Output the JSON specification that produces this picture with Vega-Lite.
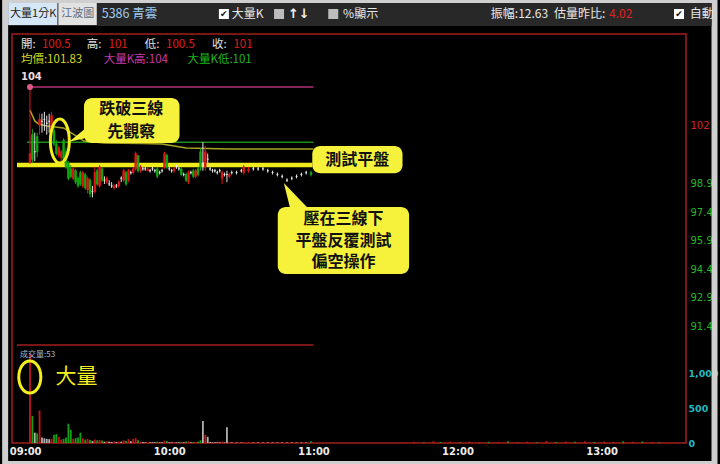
{
"$schema": "https://vega.github.io/schema/vega-lite/v6.json",
"width": 674, "height": 409,
"padding": {"left": 12, "top": 34, "right": 34, "bottom": 21},
"autosize": {"type": "none"},
"background": "#000000",
"view": {"fill": "#000000", "stroke": "#a41e1e", "strokeWidth": 1.5},
"config": {"axis": {"grid": false, "domain": false, "ticks": false, "labels": true}},
"datasets": {
"candles": [
{"t":"2024-01-02T09:02","o":100.0,"h":104.0,"l":100.0,"c":100.5,"v":1300},
{"t":"2024-01-02T09:03","o":101.5,"h":101.8,"l":100.0,"c":100.2,"v":390},
{"t":"2024-01-02T09:04","o":100.6,"h":101.6,"l":100.1,"c":100.6,"v":150},
{"t":"2024-01-02T09:05","o":101.4,"h":101.6,"l":100.3,"c":100.6,"v":140},
{"t":"2024-01-02T09:06","o":102.0,"h":102.6,"l":101.5,"c":102.3,"v":470},
{"t":"2024-01-02T09:07","o":102.2,"h":102.6,"l":101.6,"c":102.2,"v":80},
{"t":"2024-01-02T09:08","o":102.3,"h":102.7,"l":101.7,"c":102.3,"v":70},
{"t":"2024-01-02T09:09","o":102.1,"h":102.5,"l":101.5,"c":102.1,"v":60},
{"t":"2024-01-02T09:10","o":102.2,"h":102.6,"l":101.6,"c":102.2,"v":55},
{"t":"2024-01-02T09:11","o":101.7,"h":102.7,"l":101.6,"c":102.5,"v":60},
{"t":"2024-01-02T09:12","o":101.7,"h":101.9,"l":100.9,"c":101.0,"v":120},
{"t":"2024-01-02T09:13","o":101.0,"h":101.2,"l":100.4,"c":100.5,"v":130},
{"t":"2024-01-02T09:14","o":100.4,"h":100.9,"l":100.3,"c":100.8,"v":90},
{"t":"2024-01-02T09:15","o":100.3,"h":100.7,"l":100.1,"c":100.6,"v":50},
{"t":"2024-01-02T09:16","o":101.2,"h":101.3,"l":100.1,"c":100.2,"v":60},
{"t":"2024-01-02T09:17","o":100.6,"h":100.8,"l":99.7,"c":99.8,"v":80},
{"t":"2024-01-02T09:18","o":100.0,"h":100.1,"l":99.1,"c":99.2,"v":280},
{"t":"2024-01-02T09:19","o":99.7,"h":99.9,"l":99.2,"c":99.3,"v":190},
{"t":"2024-01-02T09:20","o":99.2,"h":99.8,"l":99.1,"c":99.7,"v":60},
{"t":"2024-01-02T09:21","o":99.6,"h":99.7,"l":98.9,"c":99.0,"v":70},
{"t":"2024-01-02T09:22","o":99.2,"h":99.3,"l":98.7,"c":98.8,"v":80},
{"t":"2024-01-02T09:23","o":99.5,"h":99.6,"l":98.8,"c":98.9,"v":150},
{"t":"2024-01-02T09:24","o":98.8,"h":99.6,"l":98.7,"c":99.5,"v":70},
{"t":"2024-01-02T09:25","o":99.4,"h":99.5,"l":98.6,"c":98.7,"v":50},
{"t":"2024-01-02T09:26","o":98.6,"h":99.3,"l":98.4,"c":99.2,"v":60},
{"t":"2024-01-02T09:27","o":99.1,"h":99.2,"l":98.2,"c":98.4,"v":45},
{"t":"2024-01-02T09:28","o":98.5,"h":98.8,"l":98.2,"c":98.5,"v":30},
{"t":"2024-01-02T09:29","o":98.5,"h":99.8,"l":98.4,"c":99.5,"v":50},
{"t":"2024-01-02T09:30","o":99.6,"h":99.7,"l":98.8,"c":98.9,"v":40},
{"t":"2024-01-02T09:31","o":98.8,"h":99.9,"l":98.7,"c":99.8,"v":45},
{"t":"2024-01-02T09:32","o":99.7,"h":99.8,"l":99.0,"c":99.1,"v":35},
{"t":"2024-01-02T09:33","o":99.1,"h":99.3,"l":98.9,"c":99.1,"v":20},
{"t":"2024-01-02T09:34","o":99.0,"h":99.3,"l":98.9,"c":99.2,"v":25},
{"t":"2024-01-02T09:35","o":98.9,"h":99.1,"l":98.8,"c":98.9,"v":20},
{"t":"2024-01-02T09:36","o":98.8,"h":99.0,"l":98.7,"c":98.8,"v":15},
{"t":"2024-01-02T09:37","o":98.7,"h":98.9,"l":98.6,"c":98.8,"v":20},
{"t":"2024-01-02T09:38","o":98.8,"h":98.9,"l":98.7,"c":98.8,"v":15},
{"t":"2024-01-02T09:39","o":98.8,"h":99.1,"l":98.7,"c":99.0,"v":20},
{"t":"2024-01-02T09:40","o":99.2,"h":99.3,"l":99.0,"c":99.2,"v":20},
{"t":"2024-01-02T09:41","o":99.1,"h":99.7,"l":99.0,"c":99.6,"v":40},
{"t":"2024-01-02T09:42","o":99.5,"h":99.6,"l":98.8,"c":98.9,"v":30},
{"t":"2024-01-02T09:43","o":99.1,"h":99.7,"l":99.0,"c":99.6,"v":55},
{"t":"2024-01-02T09:44","o":99.5,"h":99.6,"l":99.4,"c":99.5,"v":25},
{"t":"2024-01-02T09:45","o":99.5,"h":99.8,"l":99.4,"c":99.7,"v":60},
{"t":"2024-01-02T09:46","o":99.7,"h":100.6,"l":99.6,"c":100.5,"v":70},
{"t":"2024-01-02T09:47","o":100.4,"h":100.4,"l":99.5,"c":99.6,"v":40},
{"t":"2024-01-02T09:48","o":99.6,"h":99.9,"l":99.5,"c":99.8,"v":20},
{"t":"2024-01-02T09:49","o":99.7,"h":99.8,"l":99.6,"c":99.7,"v":15},
{"t":"2024-01-02T09:50","o":99.7,"h":99.8,"l":99.6,"c":99.7,"v":10},
{"t":"2024-01-02T09:51","o":99.6,"h":99.8,"l":99.6,"c":99.7,"v":12},
{"t":"2024-01-02T09:52","o":99.6,"h":99.7,"l":99.5,"c":99.6,"v":10},
{"t":"2024-01-02T09:53","o":99.7,"h":99.8,"l":99.6,"c":99.7,"v":12},
{"t":"2024-01-02T09:54","o":99.6,"h":99.7,"l":99.5,"c":99.6,"v":10},
{"t":"2024-01-02T09:55","o":99.7,"h":99.8,"l":99.2,"c":99.3,"v":20},
{"t":"2024-01-02T09:56","o":99.5,"h":99.6,"l":99.4,"c":99.5,"v":10},
{"t":"2024-01-02T09:57","o":99.6,"h":99.7,"l":99.5,"c":99.6,"v":12},
{"t":"2024-01-02T09:58","o":99.8,"h":100.6,"l":99.7,"c":100.5,"v":35},
{"t":"2024-01-02T09:59","o":100.4,"h":100.5,"l":99.7,"c":99.8,"v":30},
{"t":"2024-01-02T10:00","o":99.7,"h":99.8,"l":99.6,"c":99.7,"v":10},
{"t":"2024-01-02T10:01","o":99.6,"h":99.7,"l":99.5,"c":99.6,"v":10},
{"t":"2024-01-02T10:02","o":99.6,"h":99.8,"l":99.5,"c":99.7,"v":12},
{"t":"2024-01-02T10:03","o":99.8,"h":99.9,"l":99.7,"c":99.8,"v":10},
{"t":"2024-01-02T10:04","o":99.7,"h":99.8,"l":99.6,"c":99.7,"v":10},
{"t":"2024-01-02T10:05","o":99.7,"h":99.8,"l":99.3,"c":99.4,"v":15},
{"t":"2024-01-02T10:06","o":99.4,"h":99.5,"l":99.3,"c":99.4,"v":10},
{"t":"2024-01-02T10:07","o":99.4,"h":99.5,"l":99.0,"c":99.1,"v":20},
{"t":"2024-01-02T10:08","o":99.0,"h":99.6,"l":98.9,"c":99.5,"v":25},
{"t":"2024-01-02T10:09","o":99.5,"h":99.6,"l":99.4,"c":99.5,"v":10},
{"t":"2024-01-02T10:10","o":99.6,"h":99.7,"l":99.2,"c":99.3,"v":15},
{"t":"2024-01-02T10:11","o":99.3,"h":99.7,"l":99.2,"c":99.6,"v":15},
{"t":"2024-01-02T10:12","o":99.7,"h":99.8,"l":99.3,"c":99.4,"v":20},
{"t":"2024-01-02T10:13","o":100.6,"h":100.8,"l":99.6,"c":99.8,"v":40},
{"t":"2024-01-02T10:14","o":100.0,"h":101.1,"l":99.6,"c":100.0,"v":320},
{"t":"2024-01-02T10:15","o":99.8,"h":100.9,"l":99.6,"c":100.6,"v":120},
{"t":"2024-01-02T10:16","o":100.2,"h":100.5,"l":99.8,"c":100.2,"v":90},
{"t":"2024-01-02T10:17","o":99.7,"h":99.8,"l":99.6,"c":99.7,"v":15},
{"t":"2024-01-02T10:18","o":99.6,"h":99.7,"l":99.5,"c":99.6,"v":10},
{"t":"2024-01-02T10:19","o":99.6,"h":99.7,"l":99.5,"c":99.6,"v":10},
{"t":"2024-01-02T10:20","o":99.5,"h":99.6,"l":99.4,"c":99.5,"v":10},
{"t":"2024-01-02T10:21","o":99.6,"h":99.7,"l":99.5,"c":99.6,"v":10},
{"t":"2024-01-02T10:22","o":99.2,"h":99.6,"l":98.9,"c":99.5,"v":20},
{"t":"2024-01-02T10:23","o":99.4,"h":99.5,"l":99.3,"c":99.4,"v":10},
{"t":"2024-01-02T10:24","o":99.4,"h":99.6,"l":99.0,"c":99.4,"v":230},
{"t":"2024-01-02T10:25","o":99.3,"h":99.5,"l":99.2,"c":99.4,"v":10},
{"t":"2024-01-02T10:26","o":99.5,"h":99.6,"l":99.4,"c":99.5,"v":8},
{"t":"2024-01-02T10:28","o":99.5,"h":99.6,"l":99.4,"c":99.5,"v":8},
{"t":"2024-01-02T10:30","o":99.6,"h":99.7,"l":99.5,"c":99.6,"v":8},
{"t":"2024-01-02T10:31","o":99.5,"h":99.9,"l":99.4,"c":99.8,"v":15},
{"t":"2024-01-02T10:33","o":99.6,"h":99.8,"l":99.5,"c":99.7,"v":12},
{"t":"2024-01-02T10:35","o":99.7,"h":99.8,"l":99.6,"c":99.7,"v":8},
{"t":"2024-01-02T10:37","o":99.7,"h":99.8,"l":99.6,"c":99.7,"v":8},
{"t":"2024-01-02T10:39","o":99.7,"h":99.8,"l":99.6,"c":99.7,"v":8},
{"t":"2024-01-02T10:41","o":99.6,"h":99.7,"l":99.5,"c":99.6,"v":8},
{"t":"2024-01-02T10:43","o":99.5,"h":99.6,"l":99.4,"c":99.5,"v":8},
{"t":"2024-01-02T10:45","o":99.4,"h":99.5,"l":99.3,"c":99.4,"v":8},
{"t":"2024-01-02T10:47","o":99.3,"h":99.4,"l":99.2,"c":99.3,"v":8},
{"t":"2024-01-02T10:49","o":99.1,"h":99.2,"l":99.0,"c":99.1,"v":8},
{"t":"2024-01-02T10:51","o":99.2,"h":99.3,"l":99.1,"c":99.2,"v":8},
{"t":"2024-01-02T10:53","o":99.3,"h":99.4,"l":99.2,"c":99.3,"v":8},
{"t":"2024-01-02T10:55","o":99.4,"h":99.5,"l":99.3,"c":99.4,"v":8},
{"t":"2024-01-02T10:57","o":99.5,"h":99.6,"l":99.4,"c":99.5,"v":8},
{"t":"2024-01-02T10:59","o":99.5,"h":99.6,"l":99.3,"c":99.4,"v":25}
],
"late": [
{"t":"2024-01-02T11:42","v":18,"side":"up"},{"t":"2024-01-02T11:46","v":12,"side":"dn"},{"t":"2024-01-02T11:50","v":25,"side":"up"},
{"t":"2024-01-02T11:53","v":15,"side":"dn"},{"t":"2024-01-02T11:57","v":20,"side":"up"},{"t":"2024-01-02T12:01","v":10,"side":"dn"},
{"t":"2024-01-02T12:05","v":22,"side":"up"},{"t":"2024-01-02T12:09","v":14,"side":"up"},{"t":"2024-01-02T12:13","v":18,"side":"dn"},
{"t":"2024-01-02T12:17","v":12,"side":"up"},{"t":"2024-01-02T12:21","v":25,"side":"dn"},{"t":"2024-01-02T12:25","v":15,"side":"up"},
{"t":"2024-01-02T12:29","v":20,"side":"up"},{"t":"2024-01-02T12:33","v":12,"side":"dn"},{"t":"2024-01-02T12:37","v":28,"side":"up"},
{"t":"2024-01-02T12:41","v":16,"side":"dn"},{"t":"2024-01-02T12:45","v":22,"side":"up"},{"t":"2024-01-02T12:49","v":18,"side":"dn"},
{"t":"2024-01-02T12:53","v":25,"side":"up"},{"t":"2024-01-02T12:57","v":14,"side":"dn"},{"t":"2024-01-02T13:01","v":20,"side":"up"},
{"t":"2024-01-02T13:05","v":16,"side":"up"},{"t":"2024-01-02T13:09","v":24,"side":"dn"},{"t":"2024-01-02T13:13","v":18,"side":"up"},
{"t":"2024-01-02T13:17","v":22,"side":"dn"},{"t":"2024-01-02T13:21","v":15,"side":"up"},{"t":"2024-01-02T13:24","v":12,"side":"dn"}
],
"avg": [
{"t":"2024-01-02T09:02:00","p":102.79},{"t":"2024-01-02T09:04:00","p":102.22},{"t":"2024-01-02T09:05:37","p":102.06},
{"t":"2024-01-02T09:09:00","p":101.95},{"t":"2024-01-02T09:16:00","p":101.85},{"t":"2024-01-02T09:20:00","p":101.53},
{"t":"2024-01-02T09:24:30","p":101.16},{"t":"2024-01-02T09:33:00","p":101.06},{"t":"2024-01-02T09:49:00","p":101.03},
{"t":"2024-01-02T09:57:00","p":101.0},{"t":"2024-01-02T10:07:00","p":100.79},{"t":"2024-01-02T10:25:00","p":100.74},
{"t":"2024-01-02T11:00:00","p":100.74}
],
"levels": [
{"k":"sep","t1":"2024-01-02T08:56:36","t2":"2024-01-02T11:00:04","p":90.426},
{"k":"flat","t1":"2024-01-02T08:56:36","t2":"2024-01-02T10:59:32","p":99.9},
{"k":"hi","t1":"2024-01-02T09:02:00","t2":"2024-01-02T11:00:00","p":104.0},
{"k":"lo","t1":"2024-01-02T09:00:42","t2":"2024-01-02T11:00:00","p":101.1}
],
"boxes": [
{"k":"border","t1":"2024-01-02T08:51:40","t2":"2024-01-02T13:47:00","p1":108.584,"p2":84.163},
{"k":"toolbar","t1":"2024-01-02T08:52:55","t2":"2024-01-02T13:45:47","p1":108.426,"p2":107.216},
{"k":"tab1","t1":"2024-01-02T08:52:55","t2":"2024-01-02T09:13:25","p1":108.426,"p2":107.268},
{"k":"tab2","t1":"2024-01-02T09:13:49","t2":"2024-01-02T09:29:49","p1":108.426,"p2":107.268},
{"k":"co","t1":"2024-01-02T09:24:29","t2":"2024-01-02T10:04:16","p1":103.426,"p2":101.058},
{"k":"co","t1":"2024-01-02T10:59:32","t2":"2024-01-02T11:37:06","p1":100.9,"p2":99.463},
{"k":"co","t1":"2024-01-02T10:45:10","t2":"2024-01-02T11:39:51","p1":97.689,"p2":94.163}
],
"marks": [
{"g":"dot","t":"2024-01-02T09:02:00","p":104.0},
{"g":"tail1","t":"2024-01-02T09:21:49","p":101.487},
{"g":"tail2","t":"2024-01-02T10:53:17","p":98.216},
{"g":"ell1","t":"2024-01-02T09:14:26","p":101.163},
{"g":"ell2","t":"2024-01-02T09:01:56","p":88.742},
{"g":"cb","t":"2024-01-02T10:22:44","p":107.847,"on":true},
{"g":"cb","t":"2024-01-02T10:45:42","p":107.847,"on":false},
{"g":"cb","t":"2024-01-02T11:08:16","p":107.847,"on":false},
{"g":"cb","t":"2024-01-02T13:32:13","p":107.847,"on":true}
],
"texts": [
{"g":"tb1","t":"2024-01-02T08:53:43","p":107.847,"label":"大量1分K"},
{"g":"tb2","t":"2024-01-02T09:15:03","p":107.847,"label":"江波圖"},
{"g":"tb3","t":"2024-01-02T09:31:52","p":107.847,"label":"5386 青雲"},
{"g":"tbw","t":"2024-01-02T10:26:01","p":107.847,"label":"大量K"},
{"g":"tbw","t":"2024-01-02T11:12:22","p":107.847,"label":"%顯示"},
{"g":"tbw","t":"2024-01-02T12:13:53","p":107.847,"label":"振幅:12.63"},
{"g":"tbw","t":"2024-01-02T12:40:08","p":107.847,"label":"估量昨比:"},
{"g":"tbw","t":"2024-01-02T13:36:42","p":107.847,"label":"自動"},
{"g":"tbr","t":"2024-01-02T13:03:07","p":107.847,"label":"4.02"},
{"g":"tba","t":"2024-01-02T10:49:23","p":107.847,"label":"↑↓"},
{"g":"chk","t":"2024-01-02T10:22:44","p":107.847,"label":"✔"},
{"g":"chk","t":"2024-01-02T13:32:13","p":107.847,"label":"✔"},
{"g":"hl","t":"2024-01-02T08:58:14","p":106.216,"label":"開:"},
{"g":"hl","t":"2024-01-02T09:25:36","p":106.216,"label":"高:"},
{"g":"hl","t":"2024-01-02T09:49:48","p":106.216,"label":"低:"},
{"g":"hl","t":"2024-01-02T10:17:49","p":106.216,"label":"收:"},
{"g":"hv","t":"2024-01-02T09:06:58","p":106.216,"label":"100.5"},
{"g":"hv","t":"2024-01-02T09:34:44","p":106.216,"label":"101"},
{"g":"hv","t":"2024-01-02T09:58:39","p":106.216,"label":"100.5"},
{"g":"hv","t":"2024-01-02T10:26:43","p":106.216,"label":"101"},
{"g":"avg","t":"2024-01-02T08:58:14","p":105.4,"label":"均價:101.83"},
{"g":"hi","t":"2024-01-02T09:32:41","p":105.4,"label":"大量K高:104"},
{"g":"lo","t":"2024-01-02T10:07:34","p":105.4,"label":"大量K低:101"},
{"g":"p104","t":"2024-01-02T08:58:14","p":104.547,"label":"104"},
{"g":"vol","t":"2024-01-02T08:57:50","p":89.926,"label":"成交量:53"},
{"g":"co","t":"2024-01-02T09:44:11","p":102.84,"label":"跌破三線"},
{"g":"co","t":"2024-01-02T09:44:11","p":101.65,"label":"先觀察"},
{"g":"co","t":"2024-01-02T11:18:18","p":100.179,"label":"測試平盤"},
{"g":"co","t":"2024-01-02T11:12:30","p":97.08,"label":"壓在三線下"},
{"g":"co","t":"2024-01-02T11:12:30","p":95.92,"label":"平盤反覆測試"},
{"g":"co","t":"2024-01-02T11:12:30","p":94.78,"label":"偏空操作"},
{"g":"big","t":"2024-01-02T09:21:25","p":88.716,"label":"大量"}
]
},
"resolve": {"scale": {"y": "independent"}, "axis": {"y": "independent"}},
"layer": [
{"layer": [
{"data": {"name": "candles"},
 "mark": {"type": "bar", "width": 1.8},
 "encoding": {
  "x": {"field": "t", "type": "temporal",
   "scale": {"domain": [{"year":2024,"month":1,"date":2,"hours":8,"minutes":56,"seconds":36},{"year":2024,"month":1,"date":2,"hours":13,"minutes":33,"seconds":3}]},
   "axis": {"orient": "bottom", "title": null, "format": "%H:%M",
    "values": [{"year":2024,"month":1,"date":2,"hours":9},{"year":2024,"month":1,"date":2,"hours":10},{"year":2024,"month":1,"date":2,"hours":11},{"year":2024,"month":1,"date":2,"hours":12},{"year":2024,"month":1,"date":2,"hours":13}],
    "labelColor": "#ececec", "labelFont": "DejaVu Sans", "labelFontSize": 10, "labelFontWeight": "bold", "labelPadding": 3, "labelFlush": false, "labelOverlap": false, "labelBound": false}},
  "y": {"field": "v", "type": "quantitative",
   "scale": {"domain": [0, 5926], "nice": false, "zero": false},
   "axis": {"orient": "right", "title": null, "values": [0, 500, 1000], "format": ",d",
    "labelColor": "#22b8c0", "labelFont": "DejaVu Sans", "labelFontSize": 9.5, "labelFontWeight": "bold", "labelPadding": 2, "labelFlush": false, "labelOverlap": false, "labelBound": false}},
  "y2": {"datum": 0},
  "color": {"condition": [{"test": "datum.c > datum.o", "value": "#c81414"}, {"test": "datum.c < datum.o", "value": "#14a014"}], "value": "#b0b0b0"}
 }},
{"data": {"name": "late"},
 "mark": {"type": "bar", "width": 1.8},
 "encoding": {
  "x": {"field": "t", "type": "temporal"},
  "y": {"field": "v", "type": "quantitative"},
  "y2": {"datum": 0},
  "color": {"condition": {"test": "datum.side == 'up'", "value": "#c81414"}, "value": "#14a014"}
 }}
]},
{"layer": [
{"data": {"name": "boxes"},
 "transform": [{"filter": "datum.k == 'border'"}],
 "mark": {"type": "rect", "filled": false, "color": "#cfcfcf", "strokeWidth": 6},
 "encoding": {
  "x": {"field": "t1", "type": "temporal"}, "x2": {"field": "t2"},
  "y": {"field": "p1", "type": "quantitative"}, "y2": {"field": "p2"}
 }},
{"data": {"name": "boxes"},
 "transform": [{"filter": "datum.k == 'toolbar' || datum.k == 'tab1' || datum.k == 'tab2'"}],
 "mark": {"type": "rect"},
 "encoding": {
  "x": {"field": "t1", "type": "temporal"}, "x2": {"field": "t2"},
  "y": {"field": "p1", "type": "quantitative"}, "y2": {"field": "p2"},
  "color": {"condition": [{"test": "datum.k == 'tab1'", "value": "#d5e6f6"}, {"test": "datum.k == 'tab2'", "value": "#e2e2e2"}], "value": "#282828"}
 }},
{"data": {"name": "levels"},
 "transform": [{"filter": "datum.k == 'sep'"}],
 "mark": {"type": "rule", "color": "#a41e1e", "strokeWidth": 1.5},
 "encoding": {"x": {"field": "t1", "type": "temporal"}, "x2": {"field": "t2"}, "y": {"field": "p", "type": "quantitative"}}},
{"data": {"name": "levels"},
 "transform": [{"filter": "datum.k == 'hi'"}],
 "mark": {"type": "rule", "color": "#b0327a", "strokeWidth": 1.5},
 "encoding": {"x": {"field": "t1", "type": "temporal"}, "x2": {"field": "t2"}, "y": {"field": "p", "type": "quantitative"}}},
{"data": {"name": "levels"},
 "transform": [{"filter": "datum.k == 'lo'"}],
 "mark": {"type": "rule", "color": "#1e8c1e", "strokeWidth": 1.5},
 "encoding": {"x": {"field": "t1", "type": "temporal"}, "x2": {"field": "t2"}, "y": {"field": "p", "type": "quantitative"}}},
{"data": {"name": "avg"},
 "mark": {"type": "line", "color": "#a8a420", "strokeWidth": 1.5},
 "encoding": {"x": {"field": "t", "type": "temporal"}, "y": {"field": "p", "type": "quantitative"}}},
{"data": {"name": "levels"},
 "transform": [{"filter": "datum.k == 'flat'"}],
 "mark": {"type": "rule", "color": "#f0ec1c", "strokeWidth": 4.5},
 "encoding": {"x": {"field": "t1", "type": "temporal"}, "x2": {"field": "t2"}, "y": {"field": "p", "type": "quantitative"}}},
{"data": {"name": "candles"},
 "mark": {"type": "rule", "strokeWidth": 1},
 "encoding": {
  "x": {"field": "t", "type": "temporal"},
  "y": {"field": "l", "type": "quantitative",
   "scale": {"domain": [85.2684, 106.7947], "nice": false, "zero": false},
   "axis": {"orient": "right", "title": null, "values": [91.4, 92.9, 94.4, 95.9, 97.4, 98.9, 102],
    "labelExpr": "datum.value >= 100 ? format(datum.value, 'd') : format(datum.value, '.1f')",
    "labelColor": {"condition": {"test": "datum.value >= 100", "value": "#d42525"}, "value": "#22b822"},
    "labelFont": "DejaVu Sans", "labelFontSize": 10, "labelPadding": 4, "labelFlush": false, "labelOverlap": false, "labelBound": false}},
  "y2": {"field": "h"},
  "color": {"condition": [{"test": "datum.c > datum.o", "value": "#e01818"}, {"test": "datum.c < datum.o", "value": "#12a812"}], "value": "#e6e6e6"}
 }},
{"data": {"name": "candles"},
 "mark": {"type": "bar", "width": 1.6, "strokeWidth": 0.8},
 "encoding": {
  "x": {"field": "t", "type": "temporal"},
  "y": {"field": "o", "type": "quantitative"},
  "y2": {"field": "c"},
  "color": {"condition": [{"test": "datum.c > datum.o", "value": "#e01818"}, {"test": "datum.c < datum.o", "value": "#12a812"}], "value": "#e6e6e6"},
  "stroke": {"condition": [{"test": "datum.c > datum.o", "value": "#e01818"}, {"test": "datum.c < datum.o", "value": "#12a812"}], "value": "#e6e6e6"}
 }},
{"data": {"name": "marks"},
 "transform": [{"filter": "datum.g == 'dot'"}],
 "mark": {"type": "point", "shape": "circle", "filled": true, "size": 36, "color": "#e0588a", "opacity": 1},
 "encoding": {"x": {"field": "t", "type": "temporal"}, "y": {"field": "p", "type": "quantitative"}}},
{"data": {"name": "boxes"},
 "transform": [{"filter": "datum.k == 'co'"}],
 "mark": {"type": "rect", "color": "#f6f23c", "cornerRadius": 8},
 "encoding": {
  "x": {"field": "t1", "type": "temporal"}, "x2": {"field": "t2"},
  "y": {"field": "p1", "type": "quantitative"}, "y2": {"field": "p2"}
 }},
{"data": {"name": "marks"},
 "transform": [{"filter": "datum.g == 'tail1'"}],
 "mark": {"type": "point", "shape": "M 0.94 -0.76 L 0.94 0.35 L -0.94 0.76 Z", "filled": true, "size": 324, "color": "#f6f23c", "opacity": 1, "strokeWidth": 0},
 "encoding": {"x": {"field": "t", "type": "temporal"}, "y": {"field": "p", "type": "quantitative"}}},
{"data": {"name": "marks"},
 "transform": [{"filter": "datum.g == 'tail2'"}],
 "mark": {"type": "point", "shape": "M -0.46 1 L 0.96 1 L -0.96 -1 Z", "filled": true, "size": 784, "color": "#f6f23c", "opacity": 1, "strokeWidth": 0},
 "encoding": {"x": {"field": "t", "type": "temporal"}, "y": {"field": "p", "type": "quantitative"}}},
{"data": {"name": "marks"},
 "transform": [{"filter": "datum.g == 'ell1'"}],
 "mark": {"type": "point", "shape": "M -0.43 0 A 0.43 1 0 1 0 0.43 0 A 0.43 1 0 1 0 -0.43 0 Z", "filled": false, "size": 1936, "color": "#f2ee20", "strokeWidth": 3, "opacity": 1},
 "encoding": {"x": {"field": "t", "type": "temporal"}, "y": {"field": "p", "type": "quantitative"}}},
{"data": {"name": "marks"},
 "transform": [{"filter": "datum.g == 'ell2'"}],
 "mark": {"type": "point", "shape": "M -0.69 0 A 0.69 1 0 1 0 0.69 0 A 0.69 1 0 1 0 -0.69 0 Z", "filled": false, "size": 1024, "color": "#f2ee20", "strokeWidth": 3, "opacity": 1},
 "encoding": {"x": {"field": "t", "type": "temporal"}, "y": {"field": "p", "type": "quantitative"}}},
{"data": {"name": "marks"},
 "transform": [{"filter": "datum.g == 'cb'"}],
 "mark": {"type": "point", "shape": "square", "filled": true, "size": 100, "opacity": 1},
 "encoding": {"x": {"field": "t", "type": "temporal"}, "y": {"field": "p", "type": "quantitative"},
  "color": {"condition": {"test": "datum.on", "value": "#ffffff"}, "value": "#bdbdbd"}}},
{"data": {"name": "texts"},
 "transform": [{"filter": "datum.g == 'tb1'"}],
 "mark": {"type": "text", "align": "left", "baseline": "middle", "font": "Noto Sans CJK TC", "fontSize": 11, "color": "#222222"},
 "encoding": {"x": {"field": "t", "type": "temporal"}, "y": {"field": "p", "type": "quantitative"}, "text": {"field": "label"}}},
{"data": {"name": "texts"},
 "transform": [{"filter": "datum.g == 'tb2'"}],
 "mark": {"type": "text", "align": "left", "baseline": "middle", "font": "Noto Sans CJK TC", "fontSize": 11, "color": "#5c6b7a"},
 "encoding": {"x": {"field": "t", "type": "temporal"}, "y": {"field": "p", "type": "quantitative"}, "text": {"field": "label"}}},
{"data": {"name": "texts"},
 "transform": [{"filter": "datum.g == 'tb3'"}],
 "mark": {"type": "text", "align": "left", "baseline": "middle", "font": "Noto Sans CJK TC", "fontSize": 12.5, "color": "#9fcbee"},
 "encoding": {"x": {"field": "t", "type": "temporal"}, "y": {"field": "p", "type": "quantitative"}, "text": {"field": "label"}}},
{"data": {"name": "texts"},
 "transform": [{"filter": "datum.g == 'tbw'"}],
 "mark": {"type": "text", "align": "left", "baseline": "middle", "font": "Noto Sans CJK TC", "fontSize": 12, "color": "#e8e8e8"},
 "encoding": {"x": {"field": "t", "type": "temporal"}, "y": {"field": "p", "type": "quantitative"}, "text": {"field": "label"}}},
{"data": {"name": "texts"},
 "transform": [{"filter": "datum.g == 'tbr'"}],
 "mark": {"type": "text", "align": "left", "baseline": "middle", "font": "Noto Sans CJK TC", "fontSize": 12, "color": "#e02020"},
 "encoding": {"x": {"field": "t", "type": "temporal"}, "y": {"field": "p", "type": "quantitative"}, "text": {"field": "label"}}},
{"data": {"name": "texts"},
 "transform": [{"filter": "datum.g == 'tba'"}],
 "mark": {"type": "text", "align": "left", "baseline": "middle", "font": "DejaVu Sans", "fontSize": 13, "fontWeight": "bold", "color": "#f0f0f0"},
 "encoding": {"x": {"field": "t", "type": "temporal"}, "y": {"field": "p", "type": "quantitative"}, "text": {"field": "label"}}},
{"data": {"name": "texts"},
 "transform": [{"filter": "datum.g == 'chk'"}],
 "mark": {"type": "text", "align": "center", "baseline": "middle", "font": "DejaVu Sans", "fontSize": 9, "color": "#111111"},
 "encoding": {"x": {"field": "t", "type": "temporal"}, "y": {"field": "p", "type": "quantitative"}, "text": {"field": "label"}}},
{"data": {"name": "texts"},
 "transform": [{"filter": "datum.g == 'hl'"}],
 "mark": {"type": "text", "align": "left", "baseline": "middle", "font": "Noto Sans CJK TC", "fontSize": 11.5, "color": "#e0e0e0"},
 "encoding": {"x": {"field": "t", "type": "temporal"}, "y": {"field": "p", "type": "quantitative"}, "text": {"field": "label"}}},
{"data": {"name": "texts"},
 "transform": [{"filter": "datum.g == 'hv'"}],
 "mark": {"type": "text", "align": "left", "baseline": "middle", "font": "Noto Sans CJK TC", "fontSize": 11.5, "color": "#e01e1e"},
 "encoding": {"x": {"field": "t", "type": "temporal"}, "y": {"field": "p", "type": "quantitative"}, "text": {"field": "label"}}},
{"data": {"name": "texts"},
 "transform": [{"filter": "datum.g == 'avg'"}],
 "mark": {"type": "text", "align": "left", "baseline": "middle", "font": "Noto Sans CJK TC", "fontSize": 11.5, "color": "#dcd820"},
 "encoding": {"x": {"field": "t", "type": "temporal"}, "y": {"field": "p", "type": "quantitative"}, "text": {"field": "label"}}},
{"data": {"name": "texts"},
 "transform": [{"filter": "datum.g == 'hi'"}],
 "mark": {"type": "text", "align": "left", "baseline": "middle", "font": "Noto Sans CJK TC", "fontSize": 11.5, "color": "#c83aa8"},
 "encoding": {"x": {"field": "t", "type": "temporal"}, "y": {"field": "p", "type": "quantitative"}, "text": {"field": "label"}}},
{"data": {"name": "texts"},
 "transform": [{"filter": "datum.g == 'lo'"}],
 "mark": {"type": "text", "align": "left", "baseline": "middle", "font": "Noto Sans CJK TC", "fontSize": 11.5, "color": "#1eb41e"},
 "encoding": {"x": {"field": "t", "type": "temporal"}, "y": {"field": "p", "type": "quantitative"}, "text": {"field": "label"}}},
{"data": {"name": "texts"},
 "transform": [{"filter": "datum.g == 'p104'"}],
 "mark": {"type": "text", "align": "left", "baseline": "middle", "font": "DejaVu Sans", "fontSize": 10, "fontWeight": "bold", "color": "#f0dcdc"},
 "encoding": {"x": {"field": "t", "type": "temporal"}, "y": {"field": "p", "type": "quantitative"}, "text": {"field": "label"}}},
{"data": {"name": "texts"},
 "transform": [{"filter": "datum.g == 'vol'"}],
 "mark": {"type": "text", "align": "left", "baseline": "middle", "font": "Noto Sans CJK TC", "fontSize": 8, "color": "#a8bccc"},
 "encoding": {"x": {"field": "t", "type": "temporal"}, "y": {"field": "p", "type": "quantitative"}, "text": {"field": "label"}}},
{"data": {"name": "texts"},
 "transform": [{"filter": "datum.g == 'co'"}],
 "mark": {"type": "text", "align": "center", "baseline": "middle", "font": "Noto Sans CJK TC", "fontSize": 16, "fontWeight": "bold", "color": "#111111"},
 "encoding": {"x": {"field": "t", "type": "temporal"}, "y": {"field": "p", "type": "quantitative"}, "text": {"field": "label"}}},
{"data": {"name": "texts"},
 "transform": [{"filter": "datum.g == 'big'"}],
 "mark": {"type": "text", "align": "center", "baseline": "middle", "font": "Noto Sans CJK TC", "fontSize": 21, "color": "#f2ee22"},
 "encoding": {"x": {"field": "t", "type": "temporal"}, "y": {"field": "p", "type": "quantitative"}, "text": {"field": "label"}}}
]}
]
}
